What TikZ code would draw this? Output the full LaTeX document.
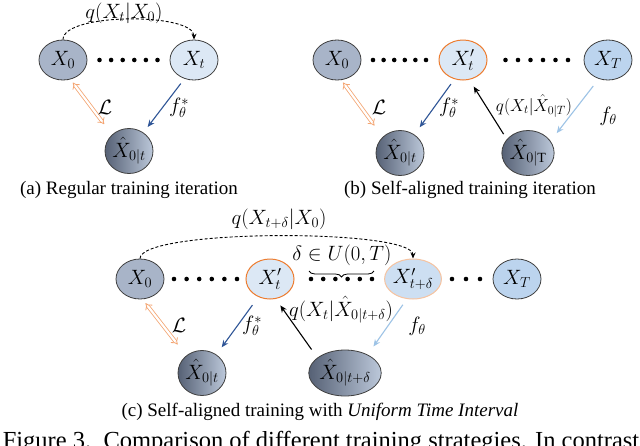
\documentclass[tikz,border=0pt]{standalone}
\usepackage{fontspec}
\setmainfont{Liberation Serif}
\usetikzlibrary{shapes.geometric,arrows.meta,calc,decorations.pathreplacing}
\definecolor{borderc}{HTML}{3F3F3F}
\definecolor{darkfill}{HTML}{A8B4C8}
\definecolor{lightfill}{HTML}{DCE8F5}
\definecolor{midfill}{HTML}{BCD4EE}
\definecolor{midfillb}{HTML}{CDDFF2}
\definecolor{gradL}{HTML}{566175}
\definecolor{gradR}{HTML}{BCC8DA}
\definecolor{orangeb}{HTML}{ED7D31}
\definecolor{orangel}{HTML}{F6C3A0}
\definecolor{lossc}{HTML}{F4A572}
\definecolor{fblue}{HTML}{2F5597}
\definecolor{flight}{HTML}{9DC3E6}
\tikzset{
  st/.style={ellipse, draw=borderc, line width=0.8pt, minimum width=48pt, minimum height=40pt, inner sep=0pt, font=\fontsize{20}{22}\selectfont},
  topdark/.style={st, fill=darkfill},
  toplight/.style={st, fill=lightfill},
  topmid/.style={st, fill=midfill},
  primeo/.style={st, fill=lightfill, draw=orangeb, line width=1pt},
  primel/.style={st, fill=midfillb, draw=orangel, line width=1pt},
  botnode/.style={st, minimum height=45pt, left color=gradL, right color=gradR},
  lossarrow/.style={draw=lossc, double=white, double distance=2.2pt, line width=0.8pt, {Implies}-{Implies}},
  farrow/.style={draw=fblue, line width=1.1pt, -{Stealth[length=7pt,width=6pt]}},
  flarrow/.style={draw=flight, line width=1.1pt, -{Stealth[length=7pt,width=6pt]}},
  qarrow/.style={draw=black, line width=1.1pt, -{Stealth[length=7pt,width=6pt]}},
  arcarrow/.style={draw=black, line width=0.9pt, dashed, dash pattern=on 3pt off 2pt, -{Stealth[length=6pt,width=5pt]}},
  lbl/.style={font=\fontsize{20}{22}\selectfont, inner sep=0pt},
  captext/.style={font=\fontsize{19}{21}\selectfont, inner sep=0pt},
}
\newcommand{\dotrow}[4]{\foreach \i in {0,...,#3}{\fill ($(#1,#4)+(\i*#2,0)$) circle (2.3pt);}}
\begin{document}
\begin{tikzpicture}[x=1pt,y=-1pt]
\useasboundingbox (0,0) rectangle (640,445);
\fill[white] (0,0) rectangle (640,445);
% ---------------- panel (a)
\node[topdark] (a0) at (63,60) {$X_0$};
\node[toplight] (at) at (194,60) {$X_t$};
\node[botnode] (a0t) at (129,151) {$\hat{X}_{0|t}$};
\dotrow{99.5}{11.6}{5}{60}
\draw[arcarrow] (a0.north) .. controls ($(a0.north)+(0,-27)$) and ($(at.north)+(0,-27)$) .. (at.north);
\node[lbl] (aq) at (124,13) {$q(X_t|X_0)$};
\draw[lossarrow, shorten <=4pt, shorten >=13pt] (a0.-69) -- (a0t.136);
\node[lbl] (aL) at (105,107) {$\mathcal{L}$};
\draw[farrow, shorten <=6pt, shorten >=7pt] (at.-117) -- (a0t.52);
\node[lbl] (af) at (179,108) {$f_\theta^*$};
\node[captext] (acap) at (129,190) {(a) Regular training iteration};
% ---------------- panel (b)
\node[topdark] (b0) at (337,60) {$X_0$};
\node[primeo] (bt) at (463,60) {$X_t'$};
\node[topmid] (bT) at (608,60) {$X_T$};
\node[botnode] (b0t) at (400,153) {$\hat{X}_{0|t}$};
\node[botnode] (b0T) at (528,153) {$\hat{X}_{0|\mathrm{T}}$};
\dotrow{373}{10.6}{5}{60}
\dotrow{505.5}{12.5}{5}{60}
\draw[lossarrow, shorten <=3pt, shorten >=14pt] (b0.-78) -- (b0t.137);
\node[lbl] (bL) at (379,107) {$\mathcal{L}$};
\draw[farrow, shorten <=6pt, shorten >=9pt] (bt.-114) -- (b0t.52);
\node[lbl] (bf) at (449,108) {$f_\theta^*$};
\draw[qarrow, shorten <=6pt, shorten >=8pt] (b0T.147) -- (bt.-72);
\node[lbl, font=\fontsize{18.5}{20}\selectfont] (bq) at (534,106) {$q(X_t|\hat{X}_{0|T})$};
\draw[flarrow, shorten <=9pt, shorten >=10pt] (bT.-116) -- (b0T.28);
\node[lbl] (bf2) at (608,116) {$f_\theta$};
\node[captext] (bcap) at (470,190) {(b) Self-aligned training iteration};
% ---------------- panel (c)
\node[topdark] (c0) at (140,279) {$X_0$};
\node[primeo] (ct) at (270,279) {$X_t'$};
\node[primel] (ctd) at (413,279) {$X_{t+\delta}'$};
\node[topmid] (cT) at (517,279) {$X_T$};
\node[botnode] (c0t) at (202,373) {$\hat{X}_{0|t}$};
\node[botnode, minimum width=57pt, minimum height=46pt] (c0td) at (345,373) {$\hat{X}_{0|t+\delta}$};
\dotrow{174}{12.6}{5}{279}
\dotrow{311}{12.2}{5}{279}
\dotrow{452}{14}{2}{279}
\coordinate (brL) at (309,271);
\coordinate (brR) at (374,271);
\draw[decorate, decoration={brace, amplitude=6pt}, line width=0.8pt] (brR) -- (brL);
\node[lbl] (cdelta) at (342,255) {$\delta\in U(0,T)$};
\draw[arcarrow] (c0.north) .. controls ($(c0.north)+(0,-30)$) and ($(ctd.north)+(0,-30)$) .. (ctd.north);
\node[lbl] (cq) at (279,219) {$q(X_{t+\delta}|X_0)$};
\draw[lossarrow, shorten <=5pt, shorten >=14pt] (c0.-83) -- (c0t.132);
\node[lbl] (cL) at (179,325) {$\mathcal{L}$};
\draw[farrow, shorten <=10pt, shorten >=9pt] (ct.-123) -- (c0t.52);
\node[lbl] (cf) at (252,326) {$f_\theta^*$};
\draw[qarrow, shorten <=10pt, shorten >=8pt] (c0td.151) -- (ct.-74);
\node[lbl] (cq2) at (341,310) {$q(X_t|\hat{X}_{0|t+\delta})$};
\draw[flarrow, shorten <=7pt, shorten >=10pt] (ctd.-107) -- (c0td.39);
\node[lbl] (cf2) at (417,326) {$f_\theta$};
\node[captext] (ccap) at (320,412) {(c) Self-aligned training with \textit{Uniform Time Interval}};
% ---------------- figure caption (cut off)
\node[font=\fontsize{24.5}{26}\selectfont, inner sep=0pt, anchor=base] (fig) at (321,448) {Figure 3.\ \ Comparison of different training strategies. In contrast};
\end{tikzpicture}
\end{document}
